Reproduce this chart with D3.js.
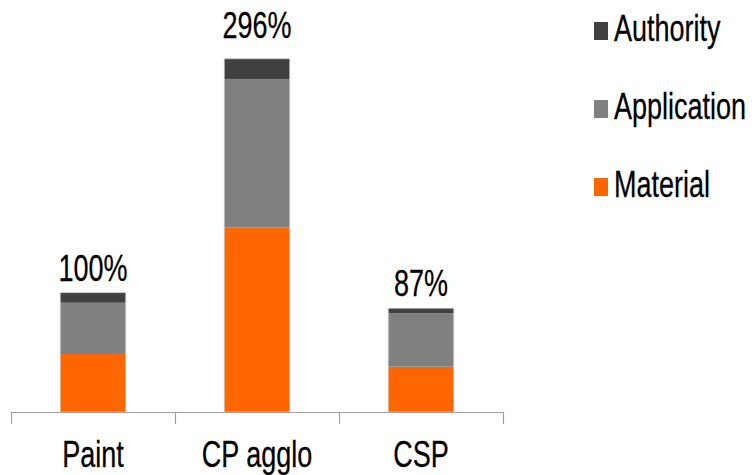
<!DOCTYPE html>
<html>
<head>
<meta charset="utf-8">
<script src="https://cdn.jsdelivr.net/npm/d3@7"></script>
<style>
  html, body { margin: 0; padding: 0; background: #fff; }
  svg { display: block; }
  text { font-family: "Liberation Sans", Arial, sans-serif; fill: #000; stroke: #000; stroke-width: 0.2; }
</style>
</head>
<body>
<svg id="chart" width="754" height="475"></svg>
<script>
const categories = ["Paint", "CP agglo", "CSP"];
const seriesNames = ["Material", "Application", "Authority"];
const material = [48.6, 154.5, 38.0];
const application = [43.0, 124.6, 44.7];
const authority = [8.4, 16.9, 4.3];
const totalLabels = ["100%", "296%", "87%"];
const legendOrder = ["Authority", "Application", "Material"];

const colors = { Material: "#FF6600", Application: "#808080", Authority: "#404040" };

const rows = categories.map((c, i) => ({
  category: c,
  Material: material[i],
  Application: application[i],
  Authority: authority[i],
  label: totalLabels[i],
  total: material[i] + application[i] + authority[i]
}));

const svg = d3.select("#chart");
const left = 11, right = 503, baseY = 412;
const FS = 27, SY = 1.36;

const x = d3.scaleBand().domain(categories).range([left, right]).paddingInner(0.6).paddingOuter(0.3);
const y = d3.scaleLinear().domain([0, 300]).range([baseY, baseY - 358]);

const stack = d3.stack().keys(seriesNames)(rows);

svg.append("g").selectAll("g").data(stack).join("g")
  .attr("fill", d => colors[d.key])
  .selectAll("rect").data(d => d).join("rect")
  .attr("x", d => x(d.data.category))
  .attr("width", x.bandwidth())
  .attr("y", d => y(d[1]))
  .attr("height", d => y(d[0]) - y(d[1]));

// bar outline
svg.append("g").selectAll("rect").data(rows).join("rect")
  .attr("x", d => x(d.category))
  .attr("width", x.bandwidth())
  .attr("y", d => y(d.total))
  .attr("height", d => baseY - y(d.total))
  .attr("fill", "none")
  .attr("stroke", "#d0d0d0")
  .attr("stroke-width", 0.8);

// axis
const axisG = svg.append("g");
axisG.append("line")
  .attr("x1", left).attr("x2", right).attr("y1", baseY + 0.5).attr("y2", baseY + 0.5)
  .attr("stroke", "#a0a0a0").attr("stroke-width", 1.2);
const step = x.step();
const tickXs = d3.range(categories.length + 1).map(i => left + i * step);
axisG.selectAll("line.tick").data(tickXs).join("line")
  .attr("class", "tick")
  .attr("x1", d => d + 0.5).attr("x2", d => d + 0.5)
  .attr("y1", baseY).attr("y2", baseY + 12)
  .attr("stroke", "#a0a0a0").attr("stroke-width", 1.2);

function stretchedText(g, tx, ty, str, anchor) {
  g.append("text")
    .attr("transform", `translate(${tx},${ty}) scale(1,${SY})`)
    .attr("text-anchor", anchor)
    .attr("font-size", FS)
    .text(str);
}

// category labels
const catG = svg.append("g");
rows.forEach(r => stretchedText(catG, x(r.category) + x.bandwidth() / 2, 467, r.category, "middle"));

// total labels
const labG = svg.append("g");
rows.forEach(r => {
  const top = y(r.total);
  const by = r.total > 250 ? top - 21 : top - 12;
  stretchedText(labG, x(r.category) + x.bandwidth() / 2, by, r.label, "middle");
});

// legend
const legG = svg.append("g");
legendOrder.forEach((name, i) => {
  const bl = 41 + i * 78;
  legG.append("rect")
    .attr("x", 594).attr("y", bl - 19).attr("width", 14).attr("height", 18)
    .attr("fill", colors[name]);
  stretchedText(legG, 614, bl, name, "start");
});
</script>
</body>
</html>
